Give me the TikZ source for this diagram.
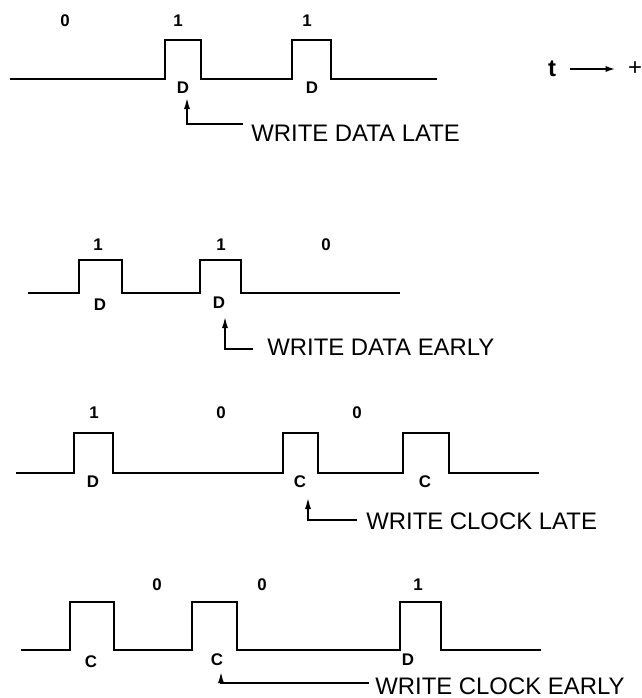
\documentclass[tikz,border=0pt]{standalone}
\usepackage{fontspec}
\setmainfont{Liberation Sans}
\usepackage{tikz}
\usetikzlibrary{arrows.meta}

\tikzset{
  wave/.style={line width=2pt, line join=miter},
  bitlbl/.style={font=\fontsize{12}{14}\selectfont\bfseries, inner sep=0pt},
  cell/.style={font=\fontsize{12}{14}\selectfont\bfseries, inner sep=0pt},
  note/.style={font=\fontsize{17}{20}\selectfont, anchor=west, inner sep=0pt},
  ptr/.style={line width=1.4pt, -{Latex[length=0.3cm,width=0.15cm]}},
}

\begin{document}
\begin{tikzpicture}[x=0.025cm, y=-0.025cm]
        \useasboundingbox (0,0) rectangle (642,698);

        \draw[wave] (10,79) -- (165,79) -- (165,40) -- (201,40) -- (201,79)
            -- (292,79) -- (292,40) -- (331,40) -- (331,79) -- (437,79);
        \node[bitlbl] (b1a) at ( 65,21) {0};
        \node[bitlbl] (b1b) at (178,21) {1};
        \node[bitlbl] (b1c) at (307,21) {1};
        \node[cell] (c1a) at (183,88) {D};
        \node[cell] (c1b) at (312,88) {D};
        \node[note] (late1) at (251,133) {WRITE DATA LATE};
        \coordinate (end1) at (243,124);
        \coordinate (tip1) at (187,97);
        \draw[ptr] (end1) -| (tip1);

        \node[font=\fontsize{17}{20}\selectfont\bfseries, inner sep=0pt] (tt) at (552,69) {t};
        \node[font=\fontsize{17}{20}\selectfont, inner sep=0pt] (plus) at (635,69) {+};
        \draw[line width=1.4pt, -{Latex[length=0.25cm,width=0.15cm]}, shorten <=3.5mm, shorten >=3mm] (tt) -- (plus);

        \draw[wave] (28,293) -- (79,293) -- (79,260) -- (122,260) -- (122,293)
            -- (200,293) -- (200,260) -- (241,260) -- (241,293) -- (400,293);
        \node[bitlbl] (b2a) at ( 98,245) {1};
        \node[bitlbl] (b2b) at (221,245) {1};
        \node[bitlbl] (b2c) at (326,245) {0};
        \node[cell] (c2a) at (100,305) {D};
        \node[cell] (c2b) at (219,303) {D};
        \node[note] (early2) at (267,347) {WRITE DATA EARLY};
        \coordinate (end2) at (253,349);
        \coordinate (tip2) at (225,316);
        \draw[ptr] (end2) -| (tip2);

        \draw[wave] (16,473) -- (74,473) -- (74,433) -- (113,433) -- (113,473)
            -- (283,473) -- (283,433) -- (318,433) -- (318,473)
            -- (403,473) -- (403,433) -- (449,433) -- (449,473) -- (539,473);
        \node[bitlbl] (b3a) at ( 94,413) {1};
        \node[bitlbl] (b3b) at (221,413) {0};
        \node[bitlbl] (b3c) at (357,413) {0};
        \node[cell] (c3a) at ( 93,482) {D};
        \node[cell] (c3b) at (300,482) {C};
        \node[cell] (c3c) at (425,482) {C};
        \node[note] (late3) at (366,521) {WRITE CLOCK LATE};
        \coordinate (end3) at (357,520);
        \coordinate (tip3) at (308,497);
        \draw[ptr] (end3) -| (tip3);

        \draw[wave] (21,650) -- (70,650) -- (70,602) -- (114,602) -- (114,650)
            -- (192,650) -- (192,602) -- (237,602) -- (237,650)
            -- (400,650) -- (400,602) -- (441,602) -- (441,650) -- (541,650);
        \node[bitlbl] (b4a) at (157,585) {0};
        \node[bitlbl] (b4b) at (262,585) {0};
        \node[bitlbl] (b4c) at (418,585) {1};
        \node[cell] (c4a) at ( 91,662) {C};
        \node[cell] (c4b) at (217,660) {C};
        \node[cell] (c4c) at (408,660) {D};
        \node[note] (early4) at (375,686) {WRITE CLOCK EARLY};
        \coordinate (end4) at (369,683);
        \coordinate (tip4) at (221,671);
        \draw[ptr] (end4) -| (tip4);
\end{tikzpicture}
\end{document}
